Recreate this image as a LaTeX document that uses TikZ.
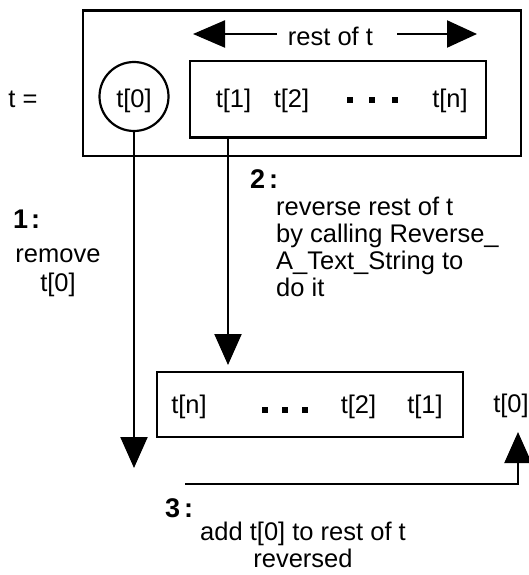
\documentclass[tikz,border=0pt]{standalone}
\usepackage{fontspec}
\setmainfont{Liberation Sans}
\usetikzlibrary{arrows.meta}
\begin{document}
\begin{tikzpicture}[x=1pt,y=-1pt,
  every node/.style={font=\fontsize{25.5}{27}\selectfont, inner sep=0pt},
  txt/.style={anchor=base},
  steplabel/.style={anchor=base west, font=\fontsize{27}{27}\selectfont\bfseries},
  frame/.style={draw, line width=2.2pt, minimum width=#1},
  conn/.style={line width=2.2pt, -{Triangle[length=31pt,width=27pt]}},
  dotmark/.style={fill, minimum size=5.5pt, inner sep=0pt}
]
\useasboundingbox (0,0) rectangle (529,575);

% the string t, split into its head and its rest
\node[txt] (teq) at (23,108) {t =};
\node[frame=438pt, minimum height=145.5pt] (outer) at (302,83.25) {};
\node[draw, circle, line width=2.2pt, minimum size=69pt] (c0) at (134,96.5) {};
\node[txt] (h0) at (134,108) {t[0]};
\node[frame=296pt, minimum height=76.5pt] (inner) at (338,99.25) {};
\node[txt] (u1) at (233.5,108) {t[1]};
\node[txt] (u2) at (291.5,108) {t[2]};
\node[dotmark] (ud1) at (350,100) {};
\node[dotmark] (ud2) at (372,100) {};
\node[dotmark] (ud3) at (395,100) {};
\node[txt] (un) at (450,108) {t[n]};

% span marker over the rest of t
\node[txt] (rest) at (330.5,46) {rest of t};
\coordinate (rl0) at (277,34);
\coordinate (rl1) at (193,34);
\coordinate (rr0) at (397,34);
\coordinate (rr1) at (477,34);
\draw[line width=2.2pt, -{Triangle[length=32pt,width=27pt]}] (rl0) -- (rl1);
\draw[line width=2.2pt, -{Triangle[length=30pt,width=27pt]}] (rr0) -- (rr1);

% the reversed rest
\node[frame=306pt, minimum height=65pt] (lower) at (310,404.5) {};
\node[txt] (ln) at (189,413) {t[n]};
\node[dotmark] (ld1) at (265,410) {};
\node[dotmark] (ld2) at (285,410) {};
\node[dotmark] (ld3) at (305,410) {};
\node[txt] (l2) at (358.5,413) {t[2]};
\node[txt] (l1) at (425,413) {t[1]};
\node[txt] (r0) at (511,412) {t[0]};

% step 1: remove the head (multi-line nodes sit on their last baseline)
\coordinate (a1) at (134,468);
\draw[conn] (c0.south) -- (a1);
\node[steplabel] (s1) at (13,228) {1\kern3pt:};
\node[anchor=base, align=center] (s1t) at (58,291) {remove\\[2pt]t[0]};

% step 2: reverse the rest recursively
\coordinate (a2) at (228,365);
\draw[conn] (a2 |- inner.south) -- (a2);
\node[steplabel] (s2) at (250,188) {2\kern4pt:};
\node[anchor=base west, align=left] (s2t) at (276,296)
  {reverse rest of t\\by calling Reverse\_\\A\_Text\_String to\\do it};

% step 3: append the head
\coordinate (s3) at (185,484);
\coordinate (a3) at (518,432);
\draw[conn] (s3) -| (a3);
\node[steplabel] (s3l) at (165,517) {3\kern4pt:};
\node[anchor=base, align=center] (s3t) at (303,567)
  {add t[0] to rest of t\\reversed};
\end{tikzpicture}
\end{document}
